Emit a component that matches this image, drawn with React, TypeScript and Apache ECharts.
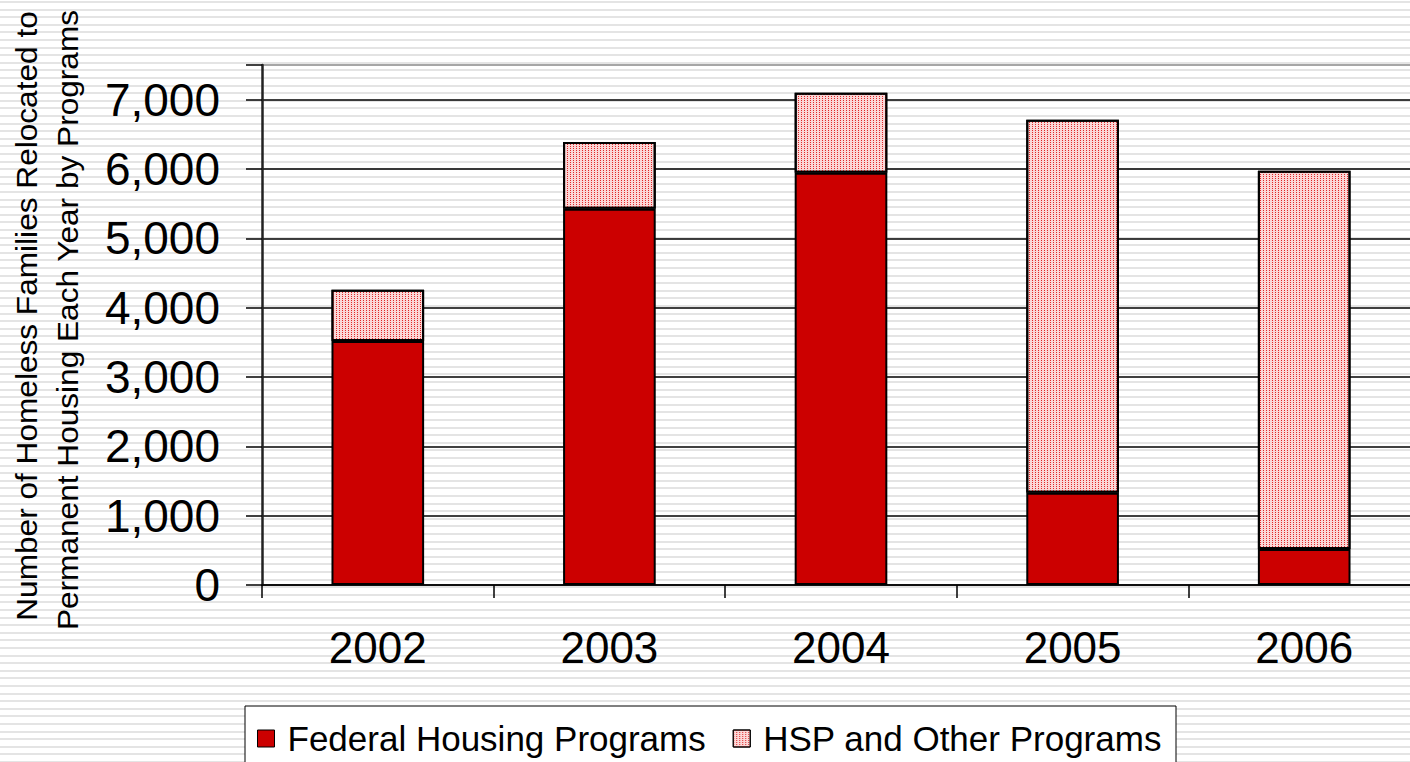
import React, { useEffect, useRef } from "react";
import * as echarts from "echarts";

const years = ["2002", "2003", "2004", "2005", "2006"];
const federal = [3520, 5425, 5945, 1330, 520];
const hspOther = [740, 965, 1155, 5380, 5455];
const seriesNames = ["Federal Housing Programs", "HSP and Other Programs"];
const titleLines = [
  "Number of Homeless Families Relocated to",
  "Permanent Housing Each Year by Programs",
];

export default function App() {
  const ref = useRef<HTMLDivElement>(null);
  useEffect(() => {
    document.body.style.margin = "0";
    const chart = echarts.init(ref.current!, null, { renderer: "svg" });
    const font = "'Liberation Sans', Arial, sans-serif";
    chart.setOption({
      animation: false,
      backgroundColor: "transparent",
      textStyle: { fontFamily: font },
      grid: { left: 262, top: 65, bottom: 177, right: 10, containLabel: false },
      legend: {
        data: seriesNames,
        left: 245,
        top: 706,
        orient: "horizontal",
        icon: "rect",
        backgroundColor: "#ffffff",
        borderColor: "#000000",
        borderWidth: 1,
        borderRadius: 0,
        padding: [15, 14, 30, 12],
        itemWidth: 17,
        itemHeight: 17,
        itemGap: 27,
        itemStyle: { borderWidth: 1, borderColor: "#000" },
        textStyle: { fontSize: 35, color: "#000", fontFamily: font, padding: [0, 0, 0, 8] },
      },
      xAxis: {
        type: "category",
        data: years,
        axisLine: { lineStyle: { color: "#000", width: 1.5 } },
        axisTick: { show: true, length: 13, lineStyle: { color: "#000", width: 1.5 } },
        axisLabel: { fontSize: 44, color: "#000", margin: 40, fontFamily: font },
      },
      yAxis: {
        type: "value",
        min: 0,
        max: 7500,
        interval: 1000,
        axisLine: { show: true, lineStyle: { color: "#222", width: 2.5 } },
        axisTick: { show: true, length: 16, lineStyle: { color: "#000", width: 1.5 } },
        axisLabel: {
          fontSize: 46,
          color: "#000",
          margin: 42,
          fontFamily: font,
          formatter: (v: number) => (v > 7000 ? "" : v.toLocaleString("en-US")),
        },
        splitLine: {
          show: true,
          lineStyle: {
            color: ["#000", "#000", "#000", "#000", "#000", "#000", "#000", "#000", "#888"],
            width: 1.5,
          },
        },
      },
      graphic: [
        {
          type: "text",
          x: 27,
          y: 316,
          rotation: Math.PI / 2,
          scaleX: 1.09,
          style: {
            text: titleLines[0],
            fontSize: 29,
            fontFamily: font,
            fill: "#000",
            align: "center",
            verticalAlign: "middle",
          },
        },
        {
          type: "text",
          x: 68,
          y: 320,
          rotation: Math.PI / 2,
          scaleX: 1.09,
          style: {
            text: titleLines[1],
            fontSize: 29,
            fontFamily: font,
            fill: "#000",
            align: "center",
            verticalAlign: "middle",
          },
        },
      ],
      series: [
        {
          name: seriesNames[0],
          type: "bar",
          stack: "total",
          barWidth: "40%",
          data: federal,
          itemStyle: { color: "#cc0000", borderColor: "#000", borderWidth: 2 },
        },
        {
          name: seriesNames[1],
          type: "bar",
          stack: "total",
          barWidth: "40%",
          data: hspOther,
          itemStyle: {
            color: "#fbd6d6",
            borderColor: "#000",
            borderWidth: 2,
            decal: {
              symbol: "rect",
              symbolSize: 1,
              color: "#e02828",
              dashArrayX: [1, 2],
              dashArrayY: [1, 1],
              rotation: 0,
            },
          },
        },
      ],
    });
    return () => chart.dispose();
  }, []);

  return (
    <div
      style={{
        position: "fixed",
        left: 0,
        top: 0,
        width: 1410,
        height: 762,
        overflow: "hidden",
        background:
          "repeating-linear-gradient(to bottom, #ffffff 0px, #ffffff 1px, #e4e4e4 1px, #e4e4e4 3px, #ffffff 3px, #ffffff 7.6px)",
      }}
    >
      <div ref={ref} style={{ width: 1430, height: 762 }} />
    </div>
  );
}
